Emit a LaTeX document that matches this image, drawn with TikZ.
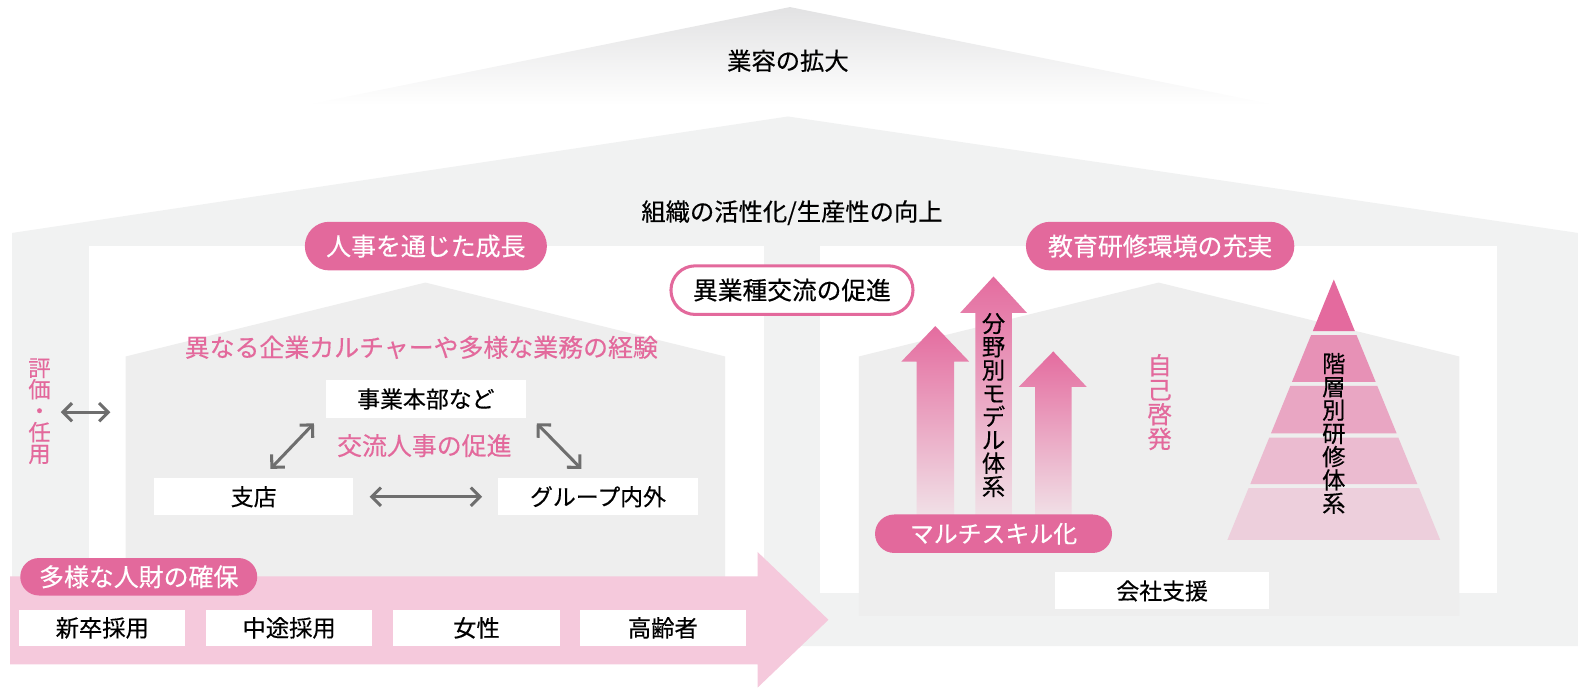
\documentclass[tikz,border=0pt]{standalone}
\usepackage{fontspec}
\setmainfont{Noto Sans CJK JP}[FakeBold=0.35]
\usetikzlibrary{arrows.meta,calc,shapes.misc}
\definecolor{pk}{RGB}{227,105,156}
\definecolor{pkarrow}{RGB}{228,108,159}
\definecolor{pkfade}{RGB}{241,228,233}
\definecolor{lpk}{RGB}{245,201,220}
\definecolor{gbig}{RGB}{241,242,242}
\definecolor{ginner}{RGB}{238,238,238}
\definecolor{groof}{RGB}{226,226,227}
\definecolor{ag}{RGB}{110,110,110}
\definecolor{py1}{RGB}{228,106,158}
\definecolor{py2}{RGB}{231,145,182}
\definecolor{py3}{RGB}{233,166,195}
\definecolor{py4}{RGB}{235,187,208}
\definecolor{py5}{RGB}{237,207,220}
\begin{document}
\begin{tikzpicture}[x=0.5pt,y=-0.5pt,
  every node/.style={inner sep=0pt,outer sep=0pt},
  lbl/.style={font=\fontsize{12}{12}\selectfont},
  pinklbl/.style={text=pk,font=\fontsize{12.3}{12.3}\selectfont},
  wbox/.style={fill=white,minimum width=98.5pt,minimum height=18.3pt,font=\fontsize{11.3}{11.3}\selectfont},
  sbox/.style={fill=white,minimum width=82pt,minimum height=18pt,font=\fontsize{11.5}{11.5}\selectfont},
  pill/.style={rounded rectangle,fill=pk,text=white,font=\fontsize{12.3}{12.3}\selectfont},
  opill/.style={rounded rectangle,fill=white,draw=pk,line width=1.5pt,font=\fontsize{12.2}{12.2}\selectfont},
  conn/.style={draw=ag,line width=1.5pt,{Straight Barb[length=4.5pt,width=9pt]}-{Straight Barb[length=4.5pt,width=9pt]}},
  vtext/.style={align=center,font=\fontsize{11.5}{11.5}\selectfont},
]
\useasboundingbox (0,0) rectangle (1568,683);
% top roof
\shade[top color=groof,bottom color=white] (300,104) -- (780,7) -- (1262,104) -- cycle;
% big house
\fill[gbig] (12,230) -- (778,115) -- (1558,230) -- (1558,638) -- (12,638) -- cycle;
% white inner rectangles
\fill[white] (88,243) rectangle (754,592);
\fill[white] (810,243) rectangle (1478,586);
% inner houses
\fill[ginner] (124,352) -- (420,279) -- (716,352) -- (716,600) -- (124,600) -- cycle;
\fill[ginner] (848,352) -- (1144,279) -- (1441,352) -- (1441,608) -- (848,608) -- cycle;
% titles
\node[lbl] (t1) at (778,60) {業容の拡大};
\node[lbl] (t2) at (782,210) {組織の活性化/生産性の向上};
% pills top
\node[pill,minimum width=119.5pt,minimum height=24pt] (p1) at (420.5,243) {人事を通じた成長};
\node[pill,minimum width=132.5pt,minimum height=24pt] (p2) at (1145.5,243) {教育研修環境の充実};
\node[opill,minimum width=119.5pt,minimum height=24pt] (p3) at (782,286.5) {異業種交流の促進};
% left side
\node[pinklbl] (l1) at (416,343) {異なる企業カルチャーや多様な業務の経験};
\node[vtext,text=pk,font=\fontsize{11}{10.6}\selectfont] (hyoka) at (39,406) {評\\価\\・\\任\\用};
\coordinate (la) at (60,407);
\coordinate (lb) at (109,407);
\draw[conn] (la) -- (lb);
\node[wbox] (jb) at (420.5,394) {事業本部など};
\node[pinklbl] (kr) at (419,440) {交流人事の促進};
\node[wbox] (st) at (250.5,490.5) {支店};
\node[wbox] (gr) at (590.5,490.5) {グループ内外};
\coordinate (d1a) at (310,418);
\coordinate (d1b) at (267,463);
\coordinate (d2a) at (530,418);
\coordinate (d2b) at (574,463);
\draw[conn] (d1a) -- (d1b);
\draw[conn] (d2a) -- (d2b);
\draw[conn,shorten <=8pt,shorten >=8pt] (st.east) -- (gr.west);
% right side: up arrows
\shade[top color=pkarrow,bottom color=pkfade] (905,515) -- (905,357) -- (890,357) -- (923.5,322) -- (957,357) -- (942,357) -- (942,515) -- cycle;
\shade[top color=pkarrow,bottom color=pkfade] (963,515) -- (963,309) -- (948,309) -- (981,273) -- (1014,309) -- (999,309) -- (999,515) -- cycle;
\shade[top color=pkarrow,bottom color=pkfade] (1022,515) -- (1022,382) -- (1006,382) -- (1040,347) -- (1073,382) -- (1058,382) -- (1058,515) -- cycle;
\node[vtext] (bm) at (981,400) {分\\野\\別\\モ\\デ\\ル\\体\\系};
\node[pill,minimum width=117pt,minimum height=19pt,font=\fontsize{11.8}{11.8}\selectfont] (ms) at (981,527) {マルチスキル化};
\node[vtext,text=pk,font=\fontsize{12}{12.1}\selectfont] (jk) at (1145,397) {自\\己\\啓\\発};
% pyramid
\fill[py1] (1317,276) -- (1337.8,327) -- (1296.2,327) -- cycle;
\fill[py2] (1294.5,331) -- (1339.5,331) -- (1358.3,377) -- (1275.7,377) -- cycle;
\fill[py3] (1274.1,381) -- (1359.9,381) -- (1379.1,428) -- (1254.9,428) -- cycle;
\fill[py4] (1253.3,432) -- (1380.7,432) -- (1399.5,478) -- (1234.5,478) -- cycle;
\fill[py5] (1232.8,482) -- (1401.2,482) -- (1422,533) -- (1212,533) -- cycle;
\node[vtext] (ks) at (1317,428) {階\\層\\別\\研\\修\\体\\系};
\node[wbox,minimum width=105.5pt] (ks2) at (1147.5,583.5) {会社支援};
% bottom big arrow
\fill[lpk] (10,569) -- (748,569) -- (748,545) -- (818,612) -- (748,679) -- (748,656) -- (10,656) -- cycle;
\node[pill,minimum width=117pt,minimum height=18.5pt,font=\fontsize{12.3}{12.3}\selectfont] (tp) at (137,569.5) {多様な人財の確保};
\node[sbox] (b1) at (101,620) {新卒採用};
\node[sbox] (b2) at (285.5,620) {中途採用};
\node[sbox] (b3) at (470.5,620) {女性};
\node[sbox] (b4) at (654.5,620) {高齢者};
\end{tikzpicture}
\end{document}
